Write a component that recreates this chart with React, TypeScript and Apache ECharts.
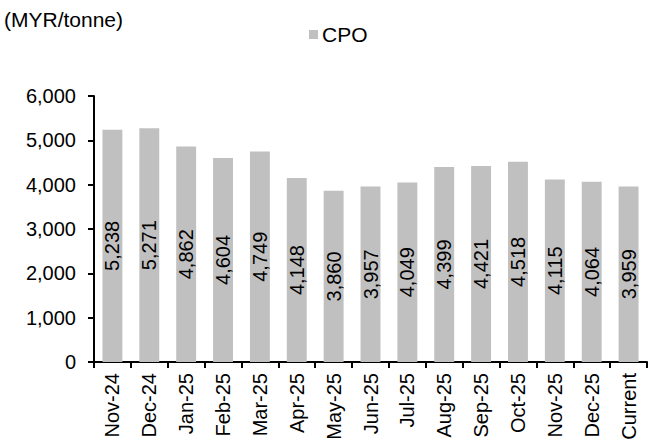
import React, { useEffect, useRef } from "react";
import * as echarts from "echarts";

const categories = ["Nov-24", "Dec-24", "Jan-25", "Feb-25", "Mar-25", "Apr-25", "May-25", "Jun-25", "Jul-25", "Aug-25", "Sep-25", "Oct-25", "Nov-25", "Dec-25", "Current"];
const cpoValues = [5238, 5271, 4862, 4604, 4749, 4148, 3860, 3957, 4049, 4399, 4421, 4518, 4115, 4064, 3959];
const seriesName = "CPO";
const unitLabel = "(MYR/tonne)";

const FONT = "'Liberation Sans', Arial, sans-serif";

export default function App() {
  const ref = useRef<HTMLDivElement>(null);
  useEffect(() => {
    if (!ref.current) return;
    const chart = echarts.init(ref.current, null, { renderer: "svg" });
    chart.setOption({
      animation: false,
      backgroundColor: "#ffffff",
      textStyle: { fontFamily: FONT, color: "#000" },
      graphic: [
        {
          type: "text",
          left: 4,
          top: 9,
          style: { text: unitLabel, fontFamily: FONT, fontSize: 21, fill: "#000" },
        },
      ],
      legend: {
        data: [seriesName],
        left: 309,
        top: 24,
        padding: 0,
        itemWidth: 9,
        itemHeight: 9,
        itemGap: 3,
        icon: "rect",
        textStyle: { fontFamily: FONT, fontSize: 21, color: "#000", padding: [0, 0, 0, -1] },
      },
      grid: { left: 94, right: 1, top: 96, bottom: 84, containLabel: false },
      xAxis: {
        type: "category",
        data: categories,
        axisLine: { lineStyle: { color: "#000", width: 2 } },
        axisTick: { show: true, length: 6, lineStyle: { color: "#000", width: 2 }, alignWithLabel: false },
        axisLabel: { rotate: 90, fontSize: 20, color: "#000", fontFamily: FONT, margin: 11, interval: 0 },
      },
      yAxis: {
        type: "value",
        min: 0,
        max: 6000,
        interval: 1000,
        axisLine: { show: true, lineStyle: { color: "#000", width: 2 } },
        axisTick: { show: true, length: 6, lineStyle: { color: "#000", width: 2 } },
        splitLine: { show: false },
        axisLabel: {
          fontSize: 20,
          color: "#000",
          fontFamily: FONT,
          margin: 18,
          formatter: (v: number) => v.toLocaleString("en-US"),
        },
      },
      series: [
        {
          name: seriesName,
          type: "bar",
          data: cpoValues,
          barWidth: "54%",
          itemStyle: { color: "#c0c0c0" },
          label: {
            show: true,
            position: "inside",
            rotate: 90,
            fontSize: 20,
            color: "#000",
            fontFamily: FONT,
            formatter: (p: any) => Number(p.value).toLocaleString("en-US"),
          },
        },
      ],
    });
    return () => chart.dispose();
  }, []);
  return <div ref={ref} style={{ position: "fixed", left: 0, top: 0, width: 648, height: 446 }} />;
}
